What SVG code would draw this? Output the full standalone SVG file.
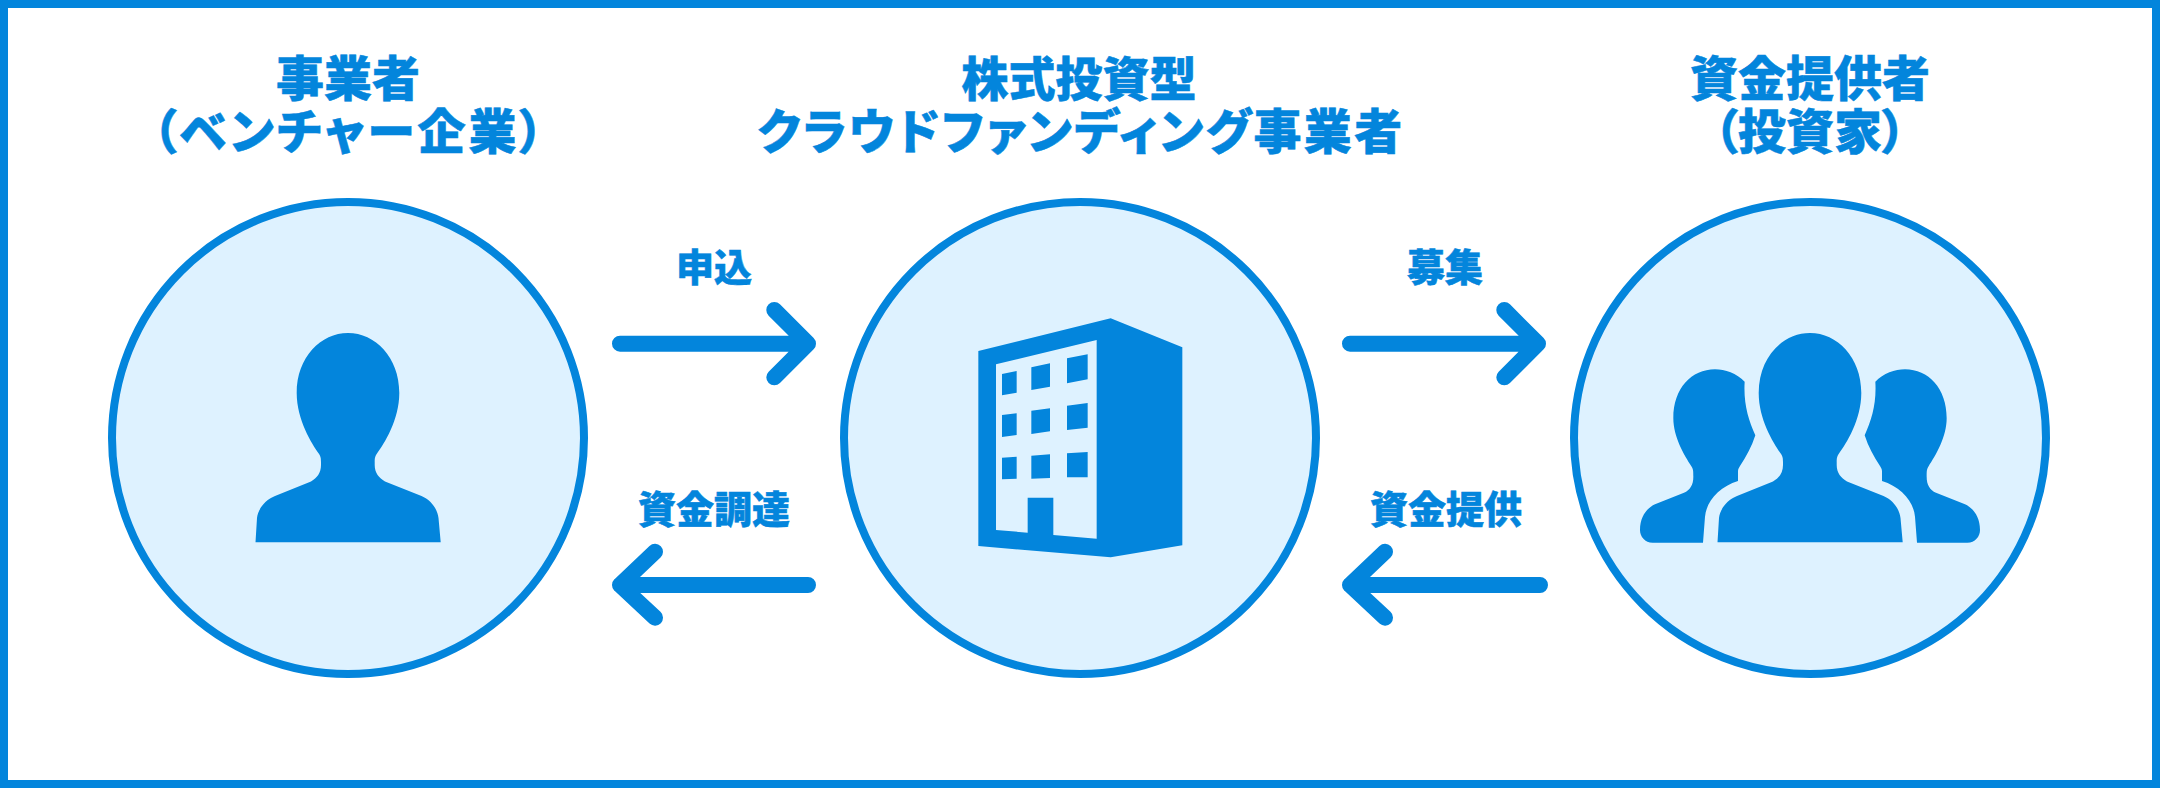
<svg xmlns="http://www.w3.org/2000/svg" width="2160" height="788" viewBox="0 0 2160 788">
<style>
.t{font-family:"Noto Sans CJK JP","Noto Sans",sans-serif;font-weight:900;fill:#0385dc;stroke:#0385dc;stroke-width:.5;text-anchor:middle;font-feature-settings:"palt"}
.h{font-size:48px}
.m{font-size:47px}
.l{font-size:38px}
.c{fill:#def2ff;stroke:#0385dc;stroke-width:8}
.i{fill:#0385dc}
.a{fill:none;stroke:#0385dc;stroke-width:16;stroke-linecap:round;stroke-linejoin:round}
</style>
<defs>
<path id="p" class="i" d="M348 333C375 333 399.300 357 399.300 393C399.300 420 384 444 377 453.500C375 456.500 374.700 458 374.700 462V465C374.700 473 379 478 385 481.500L421.500 496C431 500 437.500 509 438.500 518L440.700 542.300H255.500L257 518C258 509 265 500 275 496L311 481.500C317 478 321 473 321 465V462C321 458 320.700 456.500 318.700 453.500C312 444 296.700 420 296.700 393C296.700 357 321 333 348 333Z"/>
<path id="s" class="i" d="M404 215C380 190 345 178 315 178C245 178 190 235 190 325C190 380 222 435 245 470C250 478 250 485 250 500C250 525 240 540 222 548L135 583C110 595 90 620 90 660C90 680 105 698 128 698H279L285 620C290 570 330 530 384 513V485C384 478 386 474 390 468C410 438 425 410 436 376C415 330 400 280 404 215Z"/>
</defs>
<rect x="0" y="0" width="2160" height="788" fill="#fff"/>
<rect x="4" y="4" width="2152" height="780" fill="none" stroke="#0385dc" stroke-width="8"/>
<g id="node-company">
<text class="t h" x="348" y="96">事業者</text>
<text class="t h" x="349.500" y="149" letter-spacing="3">（ベンチャー企業）</text>
<circle class="c" cx="348" cy="438" r="236"/>
<use href="#p"/>
</g>
<g id="node-platform">
<text class="t m" x="1079" y="96">株式投資型</text>
<text class="t h" x="1081" y="149" letter-spacing="2.400">クラウドファンディング事業者</text>
<circle class="c" cx="1080" cy="438" r="236"/>
<g transform="translate(900 290) scale(.33333)">
<path class="i" fill-rule="evenodd" d="M235 183L632 85L847 172V766L632 802L235 768ZM288 223V720L383 728V623H460V735L590 746V150Z"/>
<path class="i" d="M306 252L350 243V308L306 316ZM394 232L450 220V290L394 300ZM501 205L563 193V268L501 280ZM306 375L350 370V435L306 441ZM394 362L450 355V424L394 432ZM501 347L563 339V413L501 420ZM306 503L350 500V566L306 568ZM394 497L450 493V564L394 566ZM501 490L563 486V562L501 562Z"/>
</g>
</g>
<g id="node-investor">
<text class="t h" x="1810" y="96">資金提供者</text>
<text class="t h" x="1810" y="149">（投資家）</text>
<circle class="c" cx="1810" cy="438" r="236"/>
<use href="#p" x="1462"/>
<g transform="translate(1610 310) scale(.33333)"><use href="#s"/></g>
<g transform="translate(2010 310) scale(-.33333 .33333)"><use href="#s"/></g>
</g>
<g id="connectors">
<path class="a" d="M620 343.700H808M774.300 310L808 343.700L774.300 377.300"/>
<path class="a" d="M1350 343.700H1538M1504.300 310L1538 343.700L1504.300 377.300"/>
<path class="a" d="M808 585H620M655 551.700L620 585L655 617.700"/>
<path class="a" d="M1540 585H1350M1385 551.700L1350 585L1385 617.700"/>
</g>
<g id="labels">
<text class="t l" x="714" y="281">申込</text>
<text class="t l" x="1445" y="281">募集</text>
<text class="t l" x="714" y="522.500">資金調達</text>
<text class="t l" x="1446" y="522.500">資金提供</text>
</g>
</svg>
